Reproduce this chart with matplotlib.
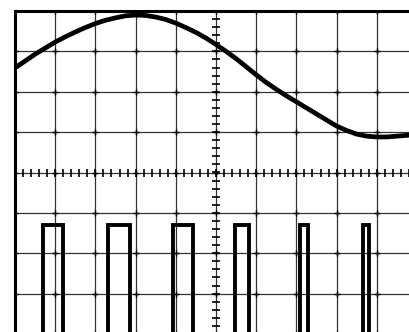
import numpy as np
import matplotlib.pyplot as plt

# Sine trace, read every quarter division (x in divisions, y in divisions from centre)
sine_x = np.arange(0, 10.01, 0.25)
sine_y = [2.59, 2.76, 2.93, 3.08, 3.23, 3.36, 3.48, 3.59, 3.69, 3.77, 3.83,
          3.88, 3.90, 3.89, 3.85, 3.79, 3.70, 3.59, 3.47, 3.33, 3.17, 3.00,
          2.82, 2.62, 2.42, 2.23, 2.06, 1.90, 1.75, 1.60, 1.45, 1.30, 1.15,
          1.04, 0.95, 0.90, 0.88, 0.88, 0.90, 0.92, 0.94]

# Pulse train: rising / falling edges and levels
pulse_rise = [0.70, 2.32, 3.93, 5.47, 7.09, 8.66]
pulse_fall = [1.19, 2.86, 4.43, 5.83, 7.28, 8.81]
pulse_high = -1.30
pulse_low = -5.0

px, py = [0.0], [pulse_low]
for r, f in zip(pulse_rise, pulse_fall):
    px += [r, r, f, f]
    py += [pulse_low, pulse_high, pulse_high, pulse_low]
px.append(10.0)
py.append(pulse_low)

fig = plt.figure(figsize=(4.10, 3.32), dpi=100)
ax = fig.add_axes([15/410, -2/332, 402/410, 323/332])
ax.set_xlim(0, 10)
ax.set_ylim(-4, 4)

# graticule
ax.set_xticks(range(11))
ax.set_yticks(range(-4, 5))
ax.tick_params(length=0, labelbottom=False, labelleft=False)
ax.grid(True, color='#333333', linewidth=0.9)
for s in ['top', 'left']:
    ax.spines[s].set_linewidth(2.2)
for s in ['right', 'bottom']:
    ax.spines[s].set_visible(False)

# small crosses at grid intersections
gx, gy = np.meshgrid(range(11), range(-4, 5))
ax.plot(gx.ravel(), gy.ravel(), ls='none', marker='+', ms=4, mew=1, color='k')

# centre axes with minor ticks
minor_x = np.arange(0, 10.01, 0.2)
minor_y = np.arange(-4, 4.01, 0.2)
ax.plot(minor_x, np.zeros_like(minor_x), ls='none', marker='|', ms=6, mew=1.2, color='k')
ax.plot(np.full_like(minor_y, 5), minor_y, ls='none', marker='_', ms=6, mew=1.2, color='k')

ax.plot(sine_x, sine_y, color='k', linewidth=3.4, solid_joinstyle='round', solid_capstyle='round')
ax.plot(px, py, color='k', linewidth=2.8, solid_joinstyle='miter')

fig.savefig('out.png', dpi=100)
